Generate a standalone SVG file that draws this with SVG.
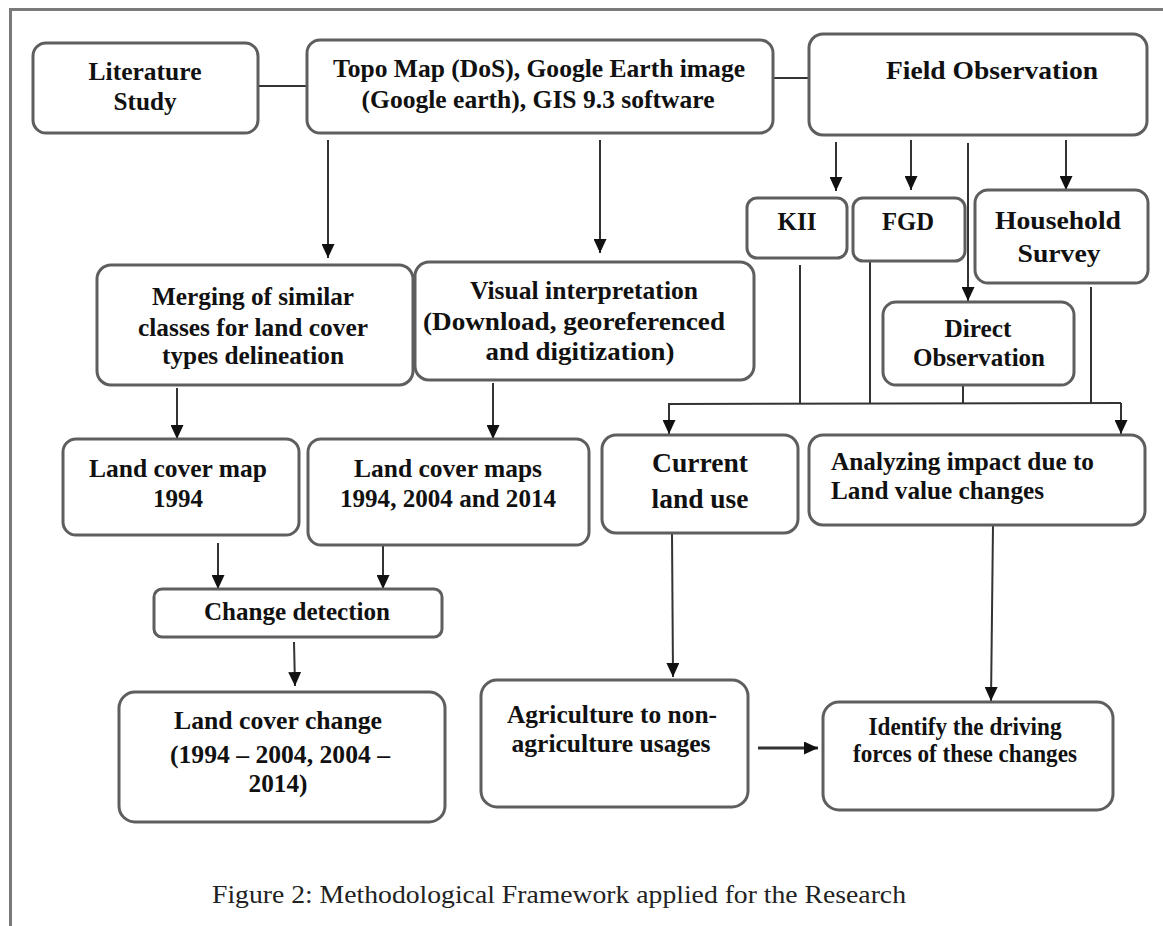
<svg xmlns="http://www.w3.org/2000/svg" width="1163" height="926" viewBox="0 0 1163 926">
<defs>
<marker id="ah" markerUnits="userSpaceOnUse" markerWidth="14" markerHeight="13" refX="14" refY="6.5" orient="auto" viewBox="0 0 14 13">
<path d="M0,0 L14,6.5 L0,13 z" fill="#111"/>
</marker>
<style>
.box{fill:#fff;stroke:#5e5e5e;stroke-width:3}
.t{font-family:"Liberation Serif","Times New Roman",serif;font-weight:bold;font-size:26px;fill:#111;text-anchor:middle}
.tl{text-anchor:start}
.c{fill:none;stroke:#333;stroke-width:2}
.a{fill:none;stroke:#333;stroke-width:2;marker-end:url(#ah)}
.cap{font-family:"Liberation Serif","Times New Roman",serif;font-size:25.5px;fill:#222}
.frame{fill:none;stroke:#7a7a7a;stroke-width:3}
</style>
</defs>
<rect width="1163" height="926" fill="#fff"/>
<path class="frame" d="M1163,9.5 L10.5,9.5 L10.5,926"/>

<g id="connectors">
<line class="c" x1="255" y1="86" x2="307" y2="86"/>
<line class="c" x1="767" y1="78" x2="809" y2="78"/>
<line class="a" x1="328" y1="140" x2="328" y2="258"/>
<line class="a" x1="600" y1="140" x2="600" y2="253"/>
<line class="a" x1="836" y1="142" x2="836" y2="191"/>
<line class="a" x1="911" y1="140" x2="911" y2="190"/>
<line class="a" x1="968" y1="143" x2="968" y2="301"/>
<line class="a" x1="1066" y1="140" x2="1066" y2="190"/>
<line class="c" x1="800" y1="265" x2="800" y2="403"/>
<line class="c" x1="870" y1="262" x2="870" y2="403"/>
<line class="c" x1="963" y1="385" x2="963" y2="403"/>
<line class="c" x1="1091" y1="287" x2="1091" y2="403"/>
<polyline class="a" points="669,403 669,434"/>
<polyline class="c" points="669,404 1121,403"/>
<polyline class="a" points="1121,403 1121,434"/>
<line class="a" x1="177" y1="388" x2="177" y2="439"/>
<line class="a" x1="493" y1="383" x2="493" y2="439"/>
<line class="a" x1="218" y1="543" x2="218" y2="589"/>
<line class="a" x1="383" y1="545" x2="383" y2="589"/>
<line class="a" x1="294" y1="642" x2="295" y2="686"/>
<line class="a" x1="672" y1="533" x2="673" y2="677"/>
<line class="a" x1="993" y1="525" x2="991" y2="701"/>
<line class="a" x1="758" y1="748" x2="818" y2="748" style="stroke-width:3"/>
</g>

<g id="literature">
<rect class="box" x="33" y="43" width="225" height="90" rx="13"/>
<text class="t" x="145" y="80" textLength="113" lengthAdjust="spacingAndGlyphs">Literature</text>
<text class="t" x="145" y="110" textLength="63" lengthAdjust="spacingAndGlyphs">Study</text>
</g>

<g id="topo">
<rect class="box" x="307" y="40" width="466" height="93" rx="13"/>
<text class="t" x="539" y="77" textLength="412" lengthAdjust="spacingAndGlyphs">Topo Map (DoS), Google Earth image</text>
<text class="t" x="538" y="108" textLength="353" lengthAdjust="spacingAndGlyphs">(Google earth), GIS 9.3 software</text>
</g>

<g id="field">
<rect class="box" x="809" y="34" width="338" height="101" rx="14"/>
<text class="t" x="992" y="79" textLength="212" lengthAdjust="spacingAndGlyphs">Field Observation</text>
</g>

<g id="kii">
<rect class="box" x="747" y="198" width="100" height="60" rx="10"/>
<text class="t" x="797" y="230" textLength="39" lengthAdjust="spacingAndGlyphs">KII</text>
</g>

<g id="fgd">
<rect class="box" x="853" y="198" width="112" height="63" rx="10"/>
<text class="t" x="908" y="230" textLength="52" lengthAdjust="spacingAndGlyphs">FGD</text>
</g>

<g id="household">
<rect class="box" x="975" y="190" width="173" height="93" rx="13"/>
<text class="t" x="1058" y="229" textLength="126" lengthAdjust="spacingAndGlyphs">Household</text>
<text class="t" x="1059" y="262" textLength="83" lengthAdjust="spacingAndGlyphs">Survey</text>
</g>

<g id="direct">
<rect class="box" x="883" y="302" width="191" height="83" rx="13"/>
<text class="t" x="978" y="337" textLength="67" lengthAdjust="spacingAndGlyphs">Direct</text>
<text class="t" x="979" y="366" textLength="132" lengthAdjust="spacingAndGlyphs">Observation</text>
</g>

<g id="merging">
<rect class="box" x="97" y="265" width="316" height="120" rx="14"/>
<text class="t" x="253" y="305" textLength="202" lengthAdjust="spacingAndGlyphs">Merging of similar</text>
<text class="t" x="253" y="336" textLength="230" lengthAdjust="spacingAndGlyphs">classes for land cover</text>
<text class="t" x="253" y="364" textLength="182" lengthAdjust="spacingAndGlyphs">types delineation</text>
</g>

<g id="visual">
<rect class="box" x="415" y="262" width="339" height="118" rx="14"/>
<text class="t" x="584" y="299" textLength="228" lengthAdjust="spacingAndGlyphs">Visual interpretation</text>
<text class="t" x="574" y="330" textLength="302" lengthAdjust="spacingAndGlyphs">(Download, georeferenced</text>
<text class="t" x="580" y="360" textLength="189" lengthAdjust="spacingAndGlyphs">and digitization)</text>
</g>

<g id="current">
<rect class="box" x="602" y="435" width="196" height="98" rx="14"/>
<text class="t" x="700" y="472" textLength="96" lengthAdjust="spacingAndGlyphs" style="font-size:28px">Current</text>
<text class="t" x="700" y="508" textLength="97" lengthAdjust="spacingAndGlyphs" style="font-size:28px">land use</text>
</g>

<g id="analyzing">
<rect class="box" x="809" y="435" width="336" height="90" rx="14"/>
<text class="t tl" x="831" y="470" textLength="263" lengthAdjust="spacingAndGlyphs">Analyzing impact due to</text>
<text class="t tl" x="831" y="499" textLength="213" lengthAdjust="spacingAndGlyphs">Land value changes</text>
</g>

<g id="lcm1994">
<rect class="box" x="63" y="439" width="236" height="96" rx="13"/>
<text class="t" x="178" y="477" textLength="178" lengthAdjust="spacingAndGlyphs">Land cover map</text>
<text class="t" x="178" y="507" textLength="50" lengthAdjust="spacingAndGlyphs">1994</text>
</g>

<g id="lcmaps">
<rect class="box" x="308" y="439" width="281" height="106" rx="13"/>
<text class="t" x="448" y="477" textLength="188" lengthAdjust="spacingAndGlyphs">Land cover maps</text>
<text class="t" x="448" y="507" textLength="216" lengthAdjust="spacingAndGlyphs">1994, 2004 and 2014</text>
</g>

<g id="change">
<rect class="box" x="154" y="589" width="288" height="48" rx="8"/>
<text class="t" x="297" y="620" textLength="186" lengthAdjust="spacingAndGlyphs">Change detection</text>
</g>

<g id="lcc">
<rect class="box" x="119" y="692" width="326" height="130" rx="16"/>
<text class="t" x="278" y="729" textLength="208" lengthAdjust="spacingAndGlyphs">Land cover change</text>
<text class="t" x="280" y="763" textLength="220" lengthAdjust="spacingAndGlyphs">(1994 – 2004, 2004 –</text>
<text class="t" x="278" y="792" textLength="59" lengthAdjust="spacingAndGlyphs">2014)</text>
</g>

<g id="agriculture">
<rect class="box" x="481" y="680" width="267" height="127" rx="16"/>
<text class="t" x="612" y="723" textLength="210" lengthAdjust="spacingAndGlyphs">Agriculture to non-</text>
<text class="t" x="611" y="752" textLength="199" lengthAdjust="spacingAndGlyphs">agriculture usages</text>
</g>

<g id="identify">
<rect class="box" x="823" y="702" width="290" height="108" rx="16"/>
<text class="t" x="965" y="735" textLength="193" lengthAdjust="spacingAndGlyphs">Identify the driving</text>
<text class="t" x="965" y="762" textLength="224" lengthAdjust="spacingAndGlyphs">forces of these changes</text>
</g>

<text class="cap" x="212" y="903" textLength="694" lengthAdjust="spacingAndGlyphs">Figure 2: Methodological Framework applied for the Research</text>
</svg>
